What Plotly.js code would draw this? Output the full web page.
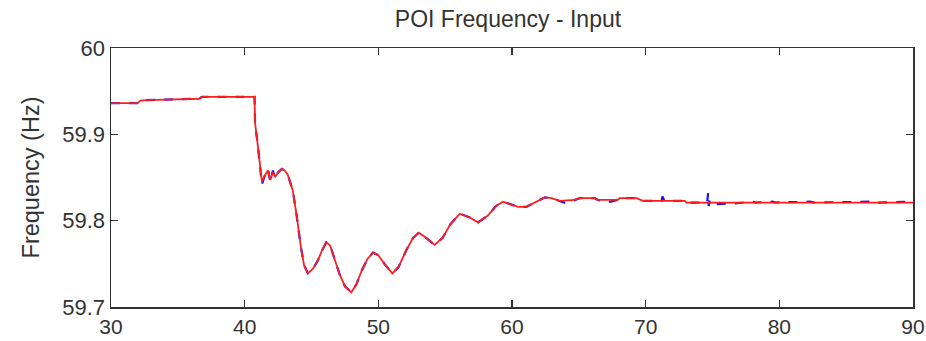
<!DOCTYPE html>
<html>
<head>
<meta charset="utf-8">
<script src="https://cdn.plot.ly/plotly-3.0.1.min.js"></script>
<style>html,body{margin:0;padding:0;background:#fff;}#chart{width:926px;height:341px;}</style>
</head>
<body>
<div id="chart"></div>
<script>
// Time (s) and frequency (Hz)
const simTime = [30, 31.98, 32.2, 32.66, 36.62, 36.8, 40.74, 40.78, 41.0, 41.29, 41.5, 41.74, 41.92, 42.11, 42.29, 42.5, 42.78, 43.0, 43.23, 43.6, 43.89, 44.2, 44.45, 44.73, 45.1, 45.48, 45.8, 46.11, 46.4, 46.73, 47.1, 47.5, 47.98, 48.35, 48.75, 49.2, 49.6, 50.0, 50.5, 51.05, 51.5, 52.1, 52.6, 53.02, 53.5, 54.21, 54.8, 55.4, 56.09, 56.8, 57.46, 58.2, 58.8, 59.33, 59.9, 60.45, 61.08, 61.7, 62.45, 62.95, 63.57, 64.69, 65.07, 66.19, 66.42, 67.91, 68.06, 69.31, 69.81, 72.93, 73.05, 90];
const simFreq = [59.9362, 59.9362, 59.9390, 59.9397, 59.9412, 59.9435, 59.9435, 59.913, 59.885, 59.845, 59.852, 59.858, 59.847, 59.856, 59.851, 59.856, 59.860, 59.858, 59.853, 59.835, 59.806, 59.770, 59.748, 59.739, 59.744, 59.754, 59.766, 59.775, 59.771, 59.756, 59.738, 59.724, 59.717, 59.726, 59.742, 59.756, 59.763, 59.760, 59.749, 59.739, 59.746, 59.766, 59.780, 59.786, 59.781, 59.772, 59.780, 59.796, 59.808, 59.804, 59.798, 59.806, 59.817, 59.822, 59.819, 59.816, 59.816, 59.821, 59.827, 59.826, 59.823, 59.824, 59.826, 59.826, 59.824, 59.824, 59.826, 59.826, 59.823, 59.823, 59.821, 59.821];

// Measured input (blue) with its small deviations
const measTime = [30, 31.98, 32.2, 32.66, 36.62, 36.8, 40.74, 40.78, 41.0, 41.29, 41.5, 41.74, 41.92, 42.11, 42.29, 42.5, 42.78, 43.0, 43.23, 43.6, 43.89, 44.2, 44.45, 44.73, 45.1, 45.48, 45.8, 46.11, 46.4, 46.73, 47.1, 47.5, 47.98, 48.35, 48.75, 49.2, 49.6, 50.0, 50.5, 51.05, 51.5, 52.1, 52.6, 53.02, 53.5, 54.21, 54.8, 55.4, 56.09, 56.8, 57.46, 58.2, 58.8, 59.33, 59.9, 60.45, 61.08, 61.7, 62.45, 62.95, 63.57, 63.9, 64.2, 64.69, 65.07, 66.19, 66.42, 67.0, 67.4, 67.91, 68.06, 69.31, 69.81, 71.2, 71.25, 71.4, 72.93, 73.05, 74.6, 74.67, 74.72, 74.8, 75.2, 76.5, 76.6, 78.0, 78.2, 79.5, 79.7, 82.3, 82.6, 87.0, 87.4, 89.9, 90];
const measFreq = [59.9362, 59.9362, 59.9390, 59.9397, 59.9412, 59.9435, 59.9435, 59.913, 59.885, 59.842, 59.852, 59.860, 59.845, 59.858, 59.849, 59.856, 59.860, 59.858, 59.853, 59.835, 59.806, 59.770, 59.748, 59.739, 59.744, 59.754, 59.766, 59.775, 59.771, 59.756, 59.738, 59.724, 59.717, 59.726, 59.742, 59.756, 59.763, 59.760, 59.749, 59.739, 59.746, 59.766, 59.780, 59.786, 59.781, 59.772, 59.780, 59.796, 59.808, 59.804, 59.798, 59.806, 59.817, 59.822, 59.819, 59.816, 59.816, 59.821, 59.827, 59.826, 59.823, 59.821, 59.821, 59.824, 59.826, 59.826, 59.824, 59.822, 59.822, 59.824, 59.826, 59.826, 59.823, 59.823, 59.828, 59.823, 59.823, 59.821, 59.821, 59.832, 59.817, 59.824, 59.819, 59.820, 59.820, 59.822, 59.821, 59.822, 59.821, 59.822, 59.821, 59.822, 59.821, 59.822, 59.821];

const yTickVals = [59.7, 59.8, 59.9, 60];
const yTickText = ["59.7", "59.8", "59.9", "60"];
const xTickVals = [30, 40, 50, 60, 70, 80, 90];

const font = "Liberation Sans, Arial, sans-serif";
const axisCommon = {
  showgrid: false, zeroline: false, showline: true, linecolor: "#333", linewidth: 1.5,
  mirror: "allticks", ticks: "inside", ticklen: 7, tickwidth: 1.5, tickcolor: "#333",
  tickfont: {family: font, size: 22, color: "#333"}
};

const data = [
  {x: measTime, y: measFreq, type: "scatter", mode: "lines",
   line: {color: "rgb(20,20,255)", width: 2.2, dash: "dash"}, hoverinfo: "skip"},
  {x: simTime, y: simFreq, type: "scatter", mode: "lines",
   line: {color: "rgb(255,30,30)", width: 1.8}, hoverinfo: "skip"}
];

const layout = {
  width: 926, height: 341,
  margin: {l: 111, r: 13, t: 48, b: 34},
  paper_bgcolor: "#fff", plot_bgcolor: "#fff",
  showlegend: false,
  title: {text: "POI Frequency - Input", font: {family: font, size: 23, color: "#333"},
          x: 508 / 926, xanchor: "center", xref: "container", y: 1 - 19/341, yref: "container", yanchor: "middle"},
  xaxis: Object.assign({}, axisCommon, {range: [30, 90], tickvals: xTickVals, ticklabelstandoff: 0,
    tickfont: {family: font, size: 21, color: "#333"}}),
  yaxis: Object.assign({}, axisCommon, {range: [59.7, 60], tickvals: yTickVals, ticktext: yTickText,
    title: {text: "Frequency (Hz)", font: {family: font, size: 23.5, color: "#333"}, standoff: 16}})
};

Plotly.newPlot("chart", data, layout, {staticPlot: true, displayModeBar: false});
</script>
</body>
</html>
